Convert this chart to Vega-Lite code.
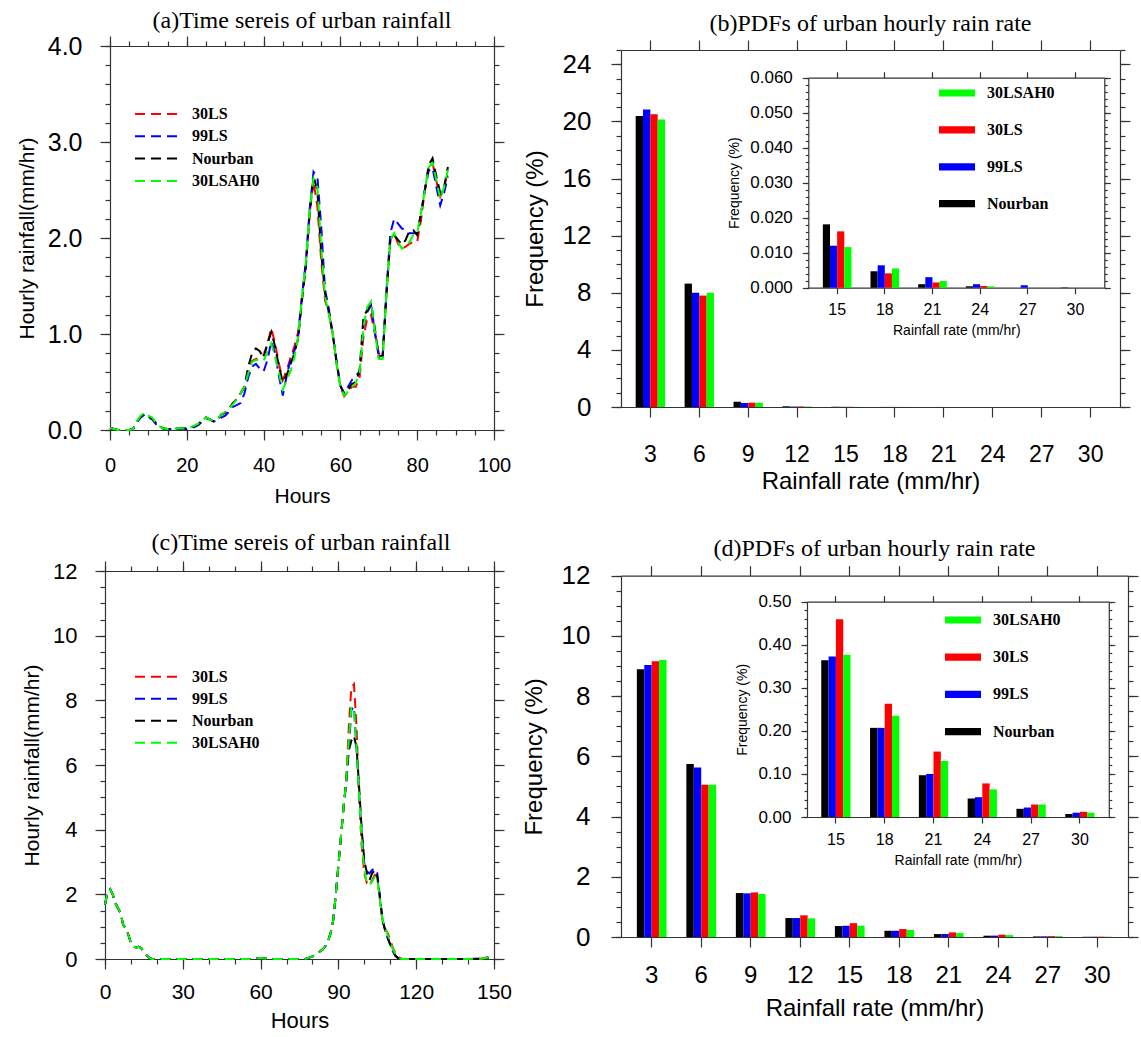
{
"$schema":"https://vega.github.io/schema/vega-lite/v6.json",
"background":"white",
"padding":{"left":16,"top":9,"right":5,"bottom":3},
"autosize":{"type":"pad"},
"config":{
 "view":{"stroke":null},
 "axis":{"domainColor":"#333","domainWidth":1.2,"tickColor":"#333","tickWidth":1.2,"tickSize":10,"labelColor":"#000","titleColor":"#000","labelFont":"Liberation Sans","titleFont":"Liberation Sans","titleFontWeight":"normal","grid":false,"labelFlush":false,"labelOverlap":false},
 "title":{"font":"Liberation Serif","fontSize":24,"fontWeight":"normal","color":"#000"},
 "legend":{"padding":0,"labelFont":"Liberation Serif","labelFontWeight":"bold","labelFontSize":16,"labelColor":"#000","labelOffset":12,"clipHeight":16}
},
"datasets":{
 "ts_a":[
  {"h":0,"30LS":0.02,"99LS":0.02,"Nourban":0.02,"30LSAH0":0.02},
  {"h":1,"30LS":0.01,"99LS":0.01,"Nourban":0.01,"30LSAH0":0.01},
  {"h":2,"30LS":0,"99LS":0,"Nourban":0,"30LSAH0":0},
  {"h":3,"30LS":0,"99LS":0,"Nourban":0,"30LSAH0":0},
  {"h":4,"30LS":0,"99LS":0,"Nourban":0,"30LSAH0":0},
  {"h":5,"30LS":0,"99LS":0,"Nourban":0,"30LSAH0":0},
  {"h":6,"30LS":0.01,"99LS":0.01,"Nourban":0.01,"30LSAH0":0.01},
  {"h":7,"30LS":0.09,"99LS":0.08,"Nourban":0.09,"30LSAH0":0.09},
  {"h":8,"30LS":0.14,"99LS":0.13,"Nourban":0.14,"30LSAH0":0.15},
  {"h":9,"30LS":0.17,"99LS":0.16,"Nourban":0.17,"30LSAH0":0.18},
  {"h":10,"30LS":0.14,"99LS":0.13,"Nourban":0.14,"30LSAH0":0.15},
  {"h":11,"30LS":0.12,"99LS":0.11,"Nourban":0.12,"30LSAH0":0.13},
  {"h":12,"30LS":0.07,"99LS":0.06,"Nourban":0.07,"30LSAH0":0.07},
  {"h":13,"30LS":0.035,"99LS":0.03,"Nourban":0.035,"30LSAH0":0.035},
  {"h":14,"30LS":0.015,"99LS":0.01,"Nourban":0.015,"30LSAH0":0.015},
  {"h":15,"30LS":0.01,"99LS":0.01,"Nourban":0.01,"30LSAH0":0.01},
  {"h":16,"30LS":0.01,"99LS":0.01,"Nourban":0.01,"30LSAH0":0.01},
  {"h":17,"30LS":0.015,"99LS":0.01,"Nourban":0.015,"30LSAH0":0.015},
  {"h":18,"30LS":0.02,"99LS":0.015,"Nourban":0.02,"30LSAH0":0.02},
  {"h":19,"30LS":0.015,"99LS":0.01,"Nourban":0.015,"30LSAH0":0.015},
  {"h":20,"30LS":0.015,"99LS":0.01,"Nourban":0.015,"30LSAH0":0.015},
  {"h":21,"30LS":0.025,"99LS":0.02,"Nourban":0.025,"30LSAH0":0.03},
  {"h":22,"30LS":0.04,"99LS":0.03,"Nourban":0.04,"30LSAH0":0.045},
  {"h":23,"30LS":0.06,"99LS":0.05,"Nourban":0.06,"30LSAH0":0.065},
  {"h":24,"30LS":0.1,"99LS":0.09,"Nourban":0.1,"30LSAH0":0.1},
  {"h":25,"30LS":0.13,"99LS":0.12,"Nourban":0.13,"30LSAH0":0.13},
  {"h":26,"30LS":0.11,"99LS":0.11,"Nourban":0.11,"30LSAH0":0.11},
  {"h":27,"30LS":0.09,"99LS":0.09,"Nourban":0.09,"30LSAH0":0.1},
  {"h":28,"30LS":0.11,"99LS":0.1,"Nourban":0.11,"30LSAH0":0.12},
  {"h":29,"30LS":0.16,"99LS":0.13,"Nourban":0.16,"30LSAH0":0.16},
  {"h":30,"30LS":0.18,"99LS":0.15,"Nourban":0.18,"30LSAH0":0.19},
  {"h":31,"30LS":0.22,"99LS":0.19,"Nourban":0.22,"30LSAH0":0.22},
  {"h":32,"30LS":0.28,"99LS":0.24,"Nourban":0.28,"30LSAH0":0.27},
  {"h":33,"30LS":0.32,"99LS":0.26,"Nourban":0.32,"30LSAH0":0.32},
  {"h":34,"30LS":0.38,"99LS":0.28,"Nourban":0.38,"30LSAH0":0.38},
  {"h":35,"30LS":0.45,"99LS":0.38,"Nourban":0.45,"30LSAH0":0.45},
  {"h":36,"30LS":0.6,"99LS":0.55,"Nourban":0.66,"30LSAH0":0.59},
  {"h":37,"30LS":0.72,"99LS":0.66,"Nourban":0.8,"30LSAH0":0.71},
  {"h":38,"30LS":0.74,"99LS":0.69,"Nourban":0.85,"30LSAH0":0.73},
  {"h":39,"30LS":0.75,"99LS":0.64,"Nourban":0.82,"30LSAH0":0.73},
  {"h":40,"30LS":0.78,"99LS":0.61,"Nourban":0.75,"30LSAH0":0.72},
  {"h":41,"30LS":0.9,"99LS":0.73,"Nourban":0.9,"30LSAH0":0.82},
  {"h":42,"30LS":1.06,"99LS":0.92,"Nourban":1.02,"30LSAH0":0.9},
  {"h":43,"30LS":0.9,"99LS":0.8,"Nourban":0.87,"30LSAH0":0.76},
  {"h":44,"30LS":0.69,"99LS":0.56,"Nourban":0.66,"30LSAH0":0.59},
  {"h":45,"30LS":0.52,"99LS":0.36,"Nourban":0.5,"30LSAH0":0.42},
  {"h":46,"30LS":0.62,"99LS":0.56,"Nourban":0.57,"30LSAH0":0.52},
  {"h":47,"30LS":0.75,"99LS":0.73,"Nourban":0.68,"30LSAH0":0.61},
  {"h":48,"30LS":0.87,"99LS":0.82,"Nourban":0.8,"30LSAH0":0.75},
  {"h":49,"30LS":1.02,"99LS":0.97,"Nourban":0.95,"30LSAH0":0.97},
  {"h":50,"30LS":1.38,"99LS":1.4,"Nourban":1.35,"30LSAH0":1.38},
  {"h":51,"30LS":1.72,"99LS":1.75,"Nourban":1.7,"30LSAH0":1.75},
  {"h":52,"30LS":2.26,"99LS":2.3,"Nourban":2.26,"30LSAH0":2.3},
  {"h":53,"30LS":2.59,"99LS":2.69,"Nourban":2.64,"30LSAH0":2.62},
  {"h":54,"30LS":2.33,"99LS":2.64,"Nourban":2.5,"30LSAH0":2.53},
  {"h":55,"30LS":1.77,"99LS":2.12,"Nourban":1.84,"30LSAH0":1.91},
  {"h":56,"30LS":1.35,"99LS":1.46,"Nourban":1.42,"30LSAH0":1.39},
  {"h":57,"30LS":1.22,"99LS":1.26,"Nourban":1.22,"30LSAH0":1.2},
  {"h":58,"30LS":1,"99LS":1,"Nourban":1,"30LSAH0":1},
  {"h":59,"30LS":0.69,"99LS":0.72,"Nourban":0.7,"30LSAH0":0.69},
  {"h":60,"30LS":0.45,"99LS":0.46,"Nourban":0.46,"30LSAH0":0.45},
  {"h":61,"30LS":0.35,"99LS":0.38,"Nourban":0.38,"30LSAH0":0.36},
  {"h":62,"30LS":0.4,"99LS":0.45,"Nourban":0.42,"30LSAH0":0.4},
  {"h":63,"30LS":0.45,"99LS":0.52,"Nourban":0.48,"30LSAH0":0.45},
  {"h":64,"30LS":0.45,"99LS":0.56,"Nourban":0.5,"30LSAH0":0.49},
  {"h":65,"30LS":0.55,"99LS":0.61,"Nourban":0.62,"30LSAH0":0.59},
  {"h":66,"30LS":0.97,"99LS":1.08,"Nourban":1.18,"30LSAH0":1.08},
  {"h":67,"30LS":1.16,"99LS":1.23,"Nourban":1.25,"30LSAH0":1.28},
  {"h":68,"30LS":1.2,"99LS":1.3,"Nourban":1.32,"30LSAH0":1.34},
  {"h":69,"30LS":1,"99LS":1.02,"Nourban":1.05,"30LSAH0":1.02},
  {"h":70,"30LS":0.8,"99LS":0.76,"Nourban":0.76,"30LSAH0":0.74},
  {"h":71,"30LS":0.75,"99LS":0.76,"Nourban":0.78,"30LSAH0":0.74},
  {"h":72,"30LS":1.42,"99LS":1.45,"Nourban":1.42,"30LSAH0":1.42},
  {"h":73,"30LS":1.98,"99LS":2.05,"Nourban":1.98,"30LSAH0":1.98},
  {"h":74,"30LS":2.05,"99LS":2.2,"Nourban":2.03,"30LSAH0":2.05},
  {"h":75,"30LS":1.94,"99LS":2.15,"Nourban":1.98,"30LSAH0":1.96},
  {"h":76,"30LS":1.89,"99LS":2.1,"Nourban":1.93,"30LSAH0":1.89},
  {"h":77,"30LS":1.91,"99LS":2.08,"Nourban":1.98,"30LSAH0":1.91},
  {"h":78,"30LS":1.94,"99LS":2.05,"Nourban":2.08,"30LSAH0":1.96},
  {"h":79,"30LS":1.96,"99LS":2.05,"Nourban":2.08,"30LSAH0":2.03},
  {"h":80,"30LS":1.96,"99LS":2.05,"Nourban":2.03,"30LSAH0":2.05},
  {"h":81,"30LS":2.19,"99LS":2.26,"Nourban":2.26,"30LSAH0":2.26},
  {"h":82,"30LS":2.5,"99LS":2.5,"Nourban":2.5,"30LSAH0":2.5},
  {"h":83,"30LS":2.74,"99LS":2.7,"Nourban":2.76,"30LSAH0":2.74},
  {"h":84,"30LS":2.78,"99LS":2.73,"Nourban":2.83,"30LSAH0":2.78},
  {"h":85,"30LS":2.59,"99LS":2.53,"Nourban":2.64,"30LSAH0":2.6},
  {"h":86,"30LS":2.43,"99LS":2.34,"Nourban":2.47,"30LSAH0":2.41},
  {"h":87,"30LS":2.53,"99LS":2.47,"Nourban":2.53,"30LSAH0":2.53},
  {"h":88,"30LS":2.69,"99LS":2.64,"Nourban":2.74,"30LSAH0":2.71}
 ],
 "ts_c":[
  {"h":0,"30LS":1.68,"99LS":1.68,"Nourban":1.68,"30LSAH0":1.68},
  {"h":1,"30LS":2.09,"99LS":2.09,"Nourban":2.09,"30LSAH0":2.09},
  {"h":2,"30LS":2.16,"99LS":2.16,"Nourban":2.16,"30LSAH0":2.16},
  {"h":3,"30LS":1.99,"99LS":1.99,"Nourban":1.99,"30LSAH0":1.99},
  {"h":4,"30LS":1.73,"99LS":1.73,"Nourban":1.73,"30LSAH0":1.73},
  {"h":5,"30LS":1.57,"99LS":1.57,"Nourban":1.57,"30LSAH0":1.57},
  {"h":6,"30LS":1.42,"99LS":1.42,"Nourban":1.42,"30LSAH0":1.42},
  {"h":7,"30LS":1.06,"99LS":1.06,"Nourban":1.06,"30LSAH0":1.06},
  {"h":8,"30LS":0.95,"99LS":0.95,"Nourban":0.95,"30LSAH0":0.95},
  {"h":9,"30LS":0.75,"99LS":0.75,"Nourban":0.75,"30LSAH0":0.75},
  {"h":10,"30LS":0.49,"99LS":0.49,"Nourban":0.49,"30LSAH0":0.49},
  {"h":11,"30LS":0.38,"99LS":0.38,"Nourban":0.38,"30LSAH0":0.38},
  {"h":12,"30LS":0.36,"99LS":0.36,"Nourban":0.36,"30LSAH0":0.36},
  {"h":13,"30LS":0.38,"99LS":0.38,"Nourban":0.38,"30LSAH0":0.38},
  {"h":14,"30LS":0.33,"99LS":0.33,"Nourban":0.33,"30LSAH0":0.33},
  {"h":15,"30LS":0.23,"99LS":0.23,"Nourban":0.23,"30LSAH0":0.23},
  {"h":16,"30LS":0.12,"99LS":0.12,"Nourban":0.12,"30LSAH0":0.12},
  {"h":17,"30LS":0.04,"99LS":0.04,"Nourban":0.04,"30LSAH0":0.04},
  {"h":18,"30LS":0,"99LS":0,"Nourban":0,"30LSAH0":0},
  {"h":25,"30LS":0,"99LS":0,"Nourban":0,"30LSAH0":0},
  {"h":30,"30LS":0,"99LS":0,"Nourban":0,"30LSAH0":0},
  {"h":40,"30LS":0,"99LS":0,"Nourban":0,"30LSAH0":0},
  {"h":50,"30LS":0,"99LS":0,"Nourban":0,"30LSAH0":0},
  {"h":57,"30LS":0,"99LS":0,"Nourban":0,"30LSAH0":0},
  {"h":60,"30LS":0.03,"99LS":0.03,"Nourban":0.03,"30LSAH0":0.03},
  {"h":63,"30LS":0,"99LS":0,"Nourban":0,"30LSAH0":0},
  {"h":70,"30LS":0,"99LS":0,"Nourban":0,"30LSAH0":0},
  {"h":77,"30LS":0,"99LS":0,"Nourban":0,"30LSAH0":0},
  {"h":78,"30LS":0.02,"99LS":0.02,"Nourban":0.02,"30LSAH0":0.02},
  {"h":80,"30LS":0.08,"99LS":0.08,"Nourban":0.08,"30LSAH0":0.08},
  {"h":82,"30LS":0.18,"99LS":0.18,"Nourban":0.18,"30LSAH0":0.18},
  {"h":84,"30LS":0.3,"99LS":0.3,"Nourban":0.3,"30LSAH0":0.3},
  {"h":85,"30LS":0.4,"99LS":0.4,"Nourban":0.4,"30LSAH0":0.4},
  {"h":86,"30LS":0.55,"99LS":0.55,"Nourban":0.55,"30LSAH0":0.55},
  {"h":87,"30LS":0.8,"99LS":0.8,"Nourban":0.8,"30LSAH0":0.8},
  {"h":88,"30LS":1.2,"99LS":1.2,"Nourban":1.2,"30LSAH0":1.2},
  {"h":89,"30LS":2.0,"99LS":2.0,"Nourban":2.0,"30LSAH0":2.0},
  {"h":90,"30LS":2.9,"99LS":2.9,"Nourban":2.9,"30LSAH0":2.9},
  {"h":91,"30LS":3.8,"99LS":3.8,"Nourban":3.8,"30LSAH0":3.8},
  {"h":92,"30LS":4.7,"99LS":4.7,"Nourban":4.7,"30LSAH0":4.7},
  {"h":93,"30LS":5.5,"99LS":5.4,"Nourban":5.5,"30LSAH0":5.5},
  {"h":94,"30LS":7.16,"99LS":6.5,"Nourban":6.44,"30LSAH0":6.75},
  {"h":95,"30LS":8.4,"99LS":7.7,"Nourban":6.75,"30LSAH0":7.77},
  {"h":96,"30LS":8.5,"99LS":7.8,"Nourban":6.9,"30LSAH0":7.77},
  {"h":97,"30LS":7.16,"99LS":6.5,"Nourban":6.54,"30LSAH0":6.54},
  {"h":98,"30LS":4.9,"99LS":5.1,"Nourban":5.3,"30LSAH0":5.0},
  {"h":99,"30LS":3.47,"99LS":3.9,"Nourban":3.98,"30LSAH0":3.67},
  {"h":100,"30LS":2.65,"99LS":2.95,"Nourban":3.06,"30LSAH0":2.75},
  {"h":101,"30LS":2.34,"99LS":2.7,"Nourban":2.65,"30LSAH0":2.34},
  {"h":102,"30LS":2.29,"99LS":2.65,"Nourban":2.44,"30LSAH0":2.29},
  {"h":103,"30LS":2.44,"99LS":2.75,"Nourban":2.65,"30LSAH0":2.39},
  {"h":104,"30LS":2.6,"99LS":2.8,"Nourban":2.75,"30LSAH0":2.54},
  {"h":105,"30LS":2.54,"99LS":2.65,"Nourban":2.54,"30LSAH0":2.49},
  {"h":106,"30LS":1.83,"99LS":1.93,"Nourban":1.9,"30LSAH0":1.83},
  {"h":107,"30LS":1.21,"99LS":1.21,"Nourban":1.2,"30LSAH0":1.25},
  {"h":108,"30LS":0.95,"99LS":0.9,"Nourban":0.9,"30LSAH0":0.95},
  {"h":109,"30LS":0.8,"99LS":0.65,"Nourban":0.65,"30LSAH0":0.75},
  {"h":110,"30LS":0.6,"99LS":0.44,"Nourban":0.45,"30LSAH0":0.55},
  {"h":111,"30LS":0.34,"99LS":0.24,"Nourban":0.25,"30LSAH0":0.3},
  {"h":112,"30LS":0.18,"99LS":0.1,"Nourban":0.1,"30LSAH0":0.15},
  {"h":113,"30LS":0.08,"99LS":0.03,"Nourban":0.03,"30LSAH0":0.05},
  {"h":114,"30LS":0.02,"99LS":0,"Nourban":0,"30LSAH0":0.01},
  {"h":115,"30LS":0,"99LS":0,"Nourban":0,"30LSAH0":0},
  {"h":120,"30LS":0,"99LS":0,"Nourban":0,"30LSAH0":0},
  {"h":130,"30LS":0,"99LS":0,"Nourban":0,"30LSAH0":0},
  {"h":140,"30LS":0,"99LS":0,"Nourban":0,"30LSAH0":0},
  {"h":145,"30LS":0.01,"99LS":0.01,"Nourban":0.01,"30LSAH0":0.01},
  {"h":147,"30LS":0.04,"99LS":0.04,"Nourban":0.04,"30LSAH0":0.04},
  {"h":148,"30LS":0.04,"99LS":0.04,"Nourban":0.04,"30LSAH0":0.04}
 ],
 "pdf_b":[
  {"rate":3,"run":"Nourban","freq":20.38},{"rate":3,"run":"99LS","freq":20.83},{"rate":3,"run":"30LS","freq":20.5},{"rate":3,"run":"30LSAH0","freq":20.13},
  {"rate":6,"run":"Nourban","freq":8.64},{"rate":6,"run":"99LS","freq":8.0},{"rate":6,"run":"30LS","freq":7.8},{"rate":6,"run":"30LSAH0","freq":8.0},
  {"rate":9,"run":"Nourban","freq":0.37},{"rate":9,"run":"99LS","freq":0.28},{"rate":9,"run":"30LS","freq":0.3},{"rate":9,"run":"30LSAH0","freq":0.3},
  {"rate":12,"run":"Nourban","freq":0.05},{"rate":12,"run":"99LS","freq":0.03},{"rate":12,"run":"30LS","freq":0.04},{"rate":12,"run":"30LSAH0","freq":0.03},
  {"rate":15,"run":"Nourban","freq":0.0181},{"rate":15,"run":"99LS","freq":0.012},{"rate":15,"run":"30LS","freq":0.0161},{"rate":15,"run":"30LSAH0","freq":0.0116},
  {"rate":18,"run":"Nourban","freq":0.0047},{"rate":18,"run":"99LS","freq":0.0064},{"rate":18,"run":"30LS","freq":0.0041},{"rate":18,"run":"30LSAH0","freq":0.0055},
  {"rate":21,"run":"Nourban","freq":0.001},{"rate":21,"run":"99LS","freq":0.003},{"rate":21,"run":"30LS","freq":0.0015},{"rate":21,"run":"30LSAH0","freq":0.0019},
  {"rate":24,"run":"Nourban","freq":0.0004},{"rate":24,"run":"99LS","freq":0.001},{"rate":24,"run":"30LS","freq":0.0005},{"rate":24,"run":"30LSAH0","freq":0.0004},
  {"rate":27,"run":"Nourban","freq":0},{"rate":27,"run":"99LS","freq":0.0007},{"rate":27,"run":"30LS","freq":0},{"rate":27,"run":"30LSAH0","freq":0},
  {"rate":30,"run":"Nourban","freq":0.0001},{"rate":30,"run":"99LS","freq":0},{"rate":30,"run":"30LS","freq":0},{"rate":30,"run":"30LSAH0","freq":0}
 ],
 "pdf_d":[
  {"rate":3,"run":"Nourban","freq":8.89},{"rate":3,"run":"99LS","freq":9.03},{"rate":3,"run":"30LS","freq":9.16},{"rate":3,"run":"30LSAH0","freq":9.2},
  {"rate":6,"run":"Nourban","freq":5.75},{"rate":6,"run":"99LS","freq":5.63},{"rate":6,"run":"30LS","freq":5.06},{"rate":6,"run":"30LSAH0","freq":5.06},
  {"rate":9,"run":"Nourban","freq":1.46},{"rate":9,"run":"99LS","freq":1.45},{"rate":9,"run":"30LS","freq":1.48},{"rate":9,"run":"30LSAH0","freq":1.43},
  {"rate":12,"run":"Nourban","freq":0.63},{"rate":12,"run":"99LS","freq":0.63},{"rate":12,"run":"30LS","freq":0.72},{"rate":12,"run":"30LSAH0","freq":0.62},
  {"rate":15,"run":"Nourban","freq":0.364},{"rate":15,"run":"99LS","freq":0.373},{"rate":15,"run":"30LS","freq":0.459},{"rate":15,"run":"30LSAH0","freq":0.377},
  {"rate":18,"run":"Nourban","freq":0.207},{"rate":18,"run":"99LS","freq":0.207},{"rate":18,"run":"30LS","freq":0.263},{"rate":18,"run":"30LSAH0","freq":0.235},
  {"rate":21,"run":"Nourban","freq":0.097},{"rate":21,"run":"99LS","freq":0.1},{"rate":21,"run":"30LS","freq":0.152},{"rate":21,"run":"30LSAH0","freq":0.13},
  {"rate":24,"run":"Nourban","freq":0.043},{"rate":24,"run":"99LS","freq":0.046},{"rate":24,"run":"30LS","freq":0.078},{"rate":24,"run":"30LSAH0","freq":0.064},
  {"rate":27,"run":"Nourban","freq":0.019},{"rate":27,"run":"99LS","freq":0.022},{"rate":27,"run":"30LS","freq":0.029},{"rate":27,"run":"30LSAH0","freq":0.029},
  {"rate":30,"run":"Nourban","freq":0.007},{"rate":30,"run":"99LS","freq":0.01},{"rate":30,"run":"30LS","freq":0.012},{"rate":30,"run":"30LSAH0","freq":0.01}
 ]
},
"vconcat":[
 {"hconcat":[
  {
   "width":389,"height":384,
   "title":{"text":"(a)Time sereis of urban rainfall","anchor":"middle","baseline":"alphabetic","offset":-18,"dx":2.5},
   "data":{"name":"ts_a"},
   "transform":[{"fold":["30LS","99LS","Nourban","30LSAH0"],"as":["run","v"]}],
   "layer":[
    {"mark":{"type":"line","strokeWidth":2,"strokeDash":[10,6]},
     "encoding":{
      "x":{"field":"h","type":"quantitative","scale":{"domain":[0,100],"range":[5,389],"nice":false,"zero":false},
           "axis":{"orient":"bottom","values":[0,20,40,60,80,100],"labelFontSize":20,"labelPadding":15,"title":"Hours","titleFontSize":21,"titlePadding":10}},
      "y":{"field":"v","type":"quantitative","scale":{"domain":[0,4],"nice":false},
           "axis":{"orient":"left","offset":-5,"values":[0,1,2,3,4],"format":".1f","labelFontSize":25,"labelPadding":18,"title":"Hourly rainfall(mm/hr)","titleFontSize":21,"titlePadding":10}},
      "color":{"field":"run","type":"nominal","scale":{"domain":["30LS","99LS","Nourban","30LSAH0"],"range":["#ff0000","#0000ff","#000000","#00ff00"]},
           "legend":{"orient":"none","legendX":29,"legendY":60,"title":null,"symbolType":"stroke","symbolSize":1936,"symbolStrokeWidth":2,"symbolDash":[10,6],"rowPadding":6.3}}
     }},
    {"mark":{"type":"point","opacity":0},"encoding":{
      "x":{"field":"h","type":"quantitative","axis":{"orient":"bottom","values":[0,5,10,15,20,25,30,35,40,45,50,55,60,65,70,75,80,85,90,95,100],"labels":false,"title":null,"tickSize":5,"domain":false}},
      "y":{"field":"v","type":"quantitative","axis":{"orient":"left","offset":-5,"values":[0,0.2,0.4,0.6,0.8,1,1.2,1.4,1.6,1.8,2,2.2,2.4,2.6,2.8,3,3.2,3.4,3.6,3.8,4],"labels":false,"title":null,"tickSize":5,"domain":false}}}},
    {"mark":{"type":"point","opacity":0},"encoding":{
      "x":{"field":"h","type":"quantitative","axis":{"orient":"top","values":[0,20,40,60,80,100],"labels":false,"title":null}},
      "y":{"field":"v","type":"quantitative","axis":{"orient":"right","values":[0,1,2,3,4],"labels":false,"title":null}}}},
    {"mark":{"type":"point","opacity":0},"encoding":{
      "x":{"field":"h","type":"quantitative","axis":{"orient":"top","values":[0,5,10,15,20,25,30,35,40,45,50,55,60,65,70,75,80,85,90,95,100],"labels":false,"title":null,"tickSize":5,"domain":false}},
      "y":{"field":"v","type":"quantitative","axis":{"orient":"right","values":[0,0.2,0.4,0.6,0.8,1,1.2,1.4,1.6,1.8,2,2.2,2.4,2.6,2.8,3,3.2,3.4,3.6,3.8,4],"labels":false,"title":null,"tickSize":5,"domain":false}}}}
   ],
   "resolve":{"axis":{"x":"independent","y":"independent"}}
  },
  {
   "width":499,"height":361,
   "title":{"text":"(b)PDFs of urban hourly rain rate","anchor":"middle","baseline":"alphabetic","offset":-16},
   "data":{"name":"pdf_b"},
   "layer":[
    {"layer":[
      {"mark":{"type":"bar"},"encoding":{
        "x":{"field":"rate","type":"ordinal","scale":{"type":"band","domain":[3,6,9,12,15,18,21,24,27,30],"paddingInner":0.4,"paddingOuter":0.3},
             "axis":{"orient":"bottom","labelAngle":0,"labelFontSize":23,"labelPadding":26,"title":"Rainfall rate (mm/hr)","titleFontSize":24,"titlePadding":3}},
        "xOffset":{"field":"run","type":"nominal","scale":{"domain":["Nourban","99LS","30LS","30LSAH0"]}},
        "y":{"field":"freq","type":"quantitative","scale":{"domain":[0,25],"range":[361,4],"nice":false},
             "axis":{"orient":"left","values":[0,4,8,12,16,20,24],"labelFontSize":26,"labelPadding":20,"title":"Frequency (%)","titleFontSize":24,"titlePadding":15}},
        "color":{"field":"run","type":"nominal","scale":{"domain":["Nourban","99LS","30LS","30LSAH0"],"range":["#000000","#0000ff","#ff0000","#00ff00"]},"legend":null}
      }},
      {"mark":{"type":"point","opacity":0},"encoding":{
        "x":{"field":"rate","type":"ordinal","axis":{"orient":"top","offset":-4,"labels":false,"title":null}},
        "y":{"field":"freq","type":"quantitative","axis":{"orient":"right","values":[0,4,8,12,16,20,24],"labels":false,"title":null}}}},
      {"mark":{"type":"point","opacity":0},"encoding":{
        "x":{"field":"rate","type":"ordinal","axis":null},
        "y":{"field":"freq","type":"quantitative","axis":{"orient":"left","values":[0,1,2,3,4,5,6,7,8,9,10,11,12,13,14,15,16,17,18,19,20,21,22,23,24,25],"labels":false,"title":null,"tickSize":5,"domain":false}}}},
      {"mark":{"type":"point","opacity":0},"encoding":{
        "x":{"field":"rate","type":"ordinal","axis":null},
        "y":{"field":"freq","type":"quantitative","axis":{"orient":"right","values":[0,1,2,3,4,5,6,7,8,9,10,11,12,13,14,15,16,17,18,19,20,21,22,23,24,25],"labels":false,"title":null,"tickSize":5,"domain":false}}}}
     ],
     "resolve":{"axis":{"x":"independent","y":"independent"}}},
    {"transform":[{"filter":{"field":"rate","gte":15}}],
     "layer":[
      {"mark":{"type":"bar"},"encoding":{
        "x":{"field":"rate","type":"ordinal","scale":{"type":"band","domain":[15,18,21,24,27,30],"range":[187.3,483.3],"paddingInner":0.4,"paddingOuter":0.305},
             "axis":{"orient":"bottom","offset":-119.3,"labelAngle":0,"labelFontSize":16,"labelPadding":8,"tickSize":6,"title":"Rainfall rate (mm/hr)","titleFontSize":14,"titlePadding":6}},
        "xOffset":{"field":"run","type":"nominal","scale":{"domain":["Nourban","99LS","30LS","30LSAH0"]}},
        "y":{"field":"freq","type":"quantitative","scale":{"domain":[0,0.06],"range":[241.7,31.7],"nice":false},
             "axis":{"orient":"left","offset":-187.3,"values":[0,0.01,0.02,0.03,0.04,0.05,0.06],"format":".3f","labelFontSize":17,"labelPadding":10,"tickSize":6,"title":"Frequency (%)","titleFontSize":14,"titlePadding":8}},
        "color":{"field":"run","type":"nominal","scale":{"domain":["Nourban","99LS","30LS","30LSAH0"],"range":["#000000","#0000ff","#ff0000","#00ff00"]},
             "legend":{"orient":"none","legendX":318,"legendY":39,"title":null,"values":["30LSAH0","30LS","99LS","Nourban"],"symbolType":"M-1,-0.2H1V0.2H-1Z","symbolSize":1296,"symbolStrokeWidth":0,"symbolOpacity":1,"rowPadding":20.9}}
      }},
      {"mark":{"type":"point","opacity":0},"encoding":{
        "x":{"field":"rate","type":"ordinal","axis":{"orient":"top","offset":-31.7,"labels":false,"title":null,"tickSize":6}},
        "y":{"field":"freq","type":"quantitative","axis":{"orient":"right","offset":-15.7,"values":[0,0.01,0.02,0.03,0.04,0.05,0.06],"labels":false,"title":null,"tickSize":6}}}},
      {"mark":{"type":"point","opacity":0},"encoding":{
        "x":{"field":"rate","type":"ordinal","axis":null},
        "y":{"field":"freq","type":"quantitative","axis":{"orient":"left","offset":-187.3,"values":[0,0.002,0.004,0.006,0.008,0.01,0.012,0.014,0.016,0.018,0.02,0.022,0.024,0.026,0.028,0.03,0.032,0.034,0.036,0.038,0.04,0.042,0.044,0.046,0.048,0.05,0.052,0.054,0.056,0.058,0.06],"labels":false,"title":null,"tickSize":3,"domain":false}}}},
      {"mark":{"type":"point","opacity":0},"encoding":{
        "x":{"field":"rate","type":"ordinal","axis":null},
        "y":{"field":"freq","type":"quantitative","axis":{"orient":"right","offset":-15.7,"values":[0,0.002,0.004,0.006,0.008,0.01,0.012,0.014,0.016,0.018,0.02,0.022,0.024,0.026,0.028,0.03,0.032,0.034,0.036,0.038,0.04,0.042,0.044,0.046,0.048,0.05,0.052,0.054,0.056,0.058,0.06],"labels":false,"title":null,"tickSize":3,"domain":false}}}}
     ],
     "resolve":{"axis":{"x":"independent","y":"independent"}}}
   ],
   "resolve":{"scale":{"x":"independent","y":"independent","color":"independent","xOffset":"independent"},"axis":{"x":"independent","y":"independent"}}
  }
 ],
 "spacing":127,"bounds":"flush",
 "resolve":{"scale":{"color":"independent"},"legend":{"color":"independent"}}},
 {"hconcat":[
  {
   "width":389,"height":388,
   "title":{"text":"(c)Time sereis of urban rainfall","anchor":"middle","baseline":"alphabetic","offset":-14,"dx":1.5},
   "data":{"name":"ts_c"},
   "transform":[{"fold":["30LS","99LS","Nourban","30LSAH0"],"as":["run","v"]}],
   "layer":[
    {"mark":{"type":"line","strokeWidth":2,"strokeDash":[10,6]},
     "encoding":{
      "x":{"field":"h","type":"quantitative","scale":{"domain":[0,150],"nice":false,"zero":false},
           "axis":{"orient":"bottom","values":[0,30,60,90,120,150],"labelFontSize":21,"labelPadding":12,"title":"Hours","titleFontSize":22,"titlePadding":8}},
      "y":{"field":"v","type":"quantitative","scale":{"domain":[0,12],"nice":false},
           "axis":{"orient":"left","values":[0,2,4,6,8,10,12],"labelFontSize":22,"labelPadding":18,"title":"Hourly rainfall(mm/hr)","titleFontSize":21,"titlePadding":10}},
      "color":{"field":"run","type":"nominal","scale":{"domain":["30LS","99LS","Nourban","30LSAH0"],"range":["#ff0000","#0000ff","#000000","#00ff00"]},
           "legend":{"orient":"none","legendX":29,"legendY":97.7,"title":null,"symbolType":"stroke","symbolSize":1936,"symbolStrokeWidth":2,"symbolDash":[10,6],"rowPadding":6}}
     }},
    {"mark":{"type":"point","opacity":0},"encoding":{
      "x":{"field":"h","type":"quantitative","axis":{"orient":"bottom","values":[0,10,20,30,40,50,60,70,80,90,100,110,120,130,140,150],"labels":false,"title":null,"tickSize":5,"domain":false}},
      "y":{"field":"v","type":"quantitative","axis":{"orient":"left","values":[0,0.5,1,1.5,2,2.5,3,3.5,4,4.5,5,5.5,6,6.5,7,7.5,8,8.5,9,9.5,10,10.5,11,11.5,12],"labels":false,"title":null,"tickSize":5,"domain":false}}}},
    {"mark":{"type":"point","opacity":0},"encoding":{
      "x":{"field":"h","type":"quantitative","axis":{"orient":"top","values":[0,30,60,90,120,150],"labels":false,"title":null}},
      "y":{"field":"v","type":"quantitative","axis":{"orient":"right","values":[0,2,4,6,8,10,12],"labels":false,"title":null}}}},
    {"mark":{"type":"point","opacity":0},"encoding":{
      "x":{"field":"h","type":"quantitative","axis":{"orient":"top","values":[0,10,20,30,40,50,60,70,80,90,100,110,120,130,140,150],"labels":false,"title":null,"tickSize":5,"domain":false}},
      "y":{"field":"v","type":"quantitative","axis":{"orient":"right","values":[0,0.5,1,1.5,2,2.5,3,3.5,4,4.5,5,5.5,6,6.5,7,7.5,8,8.5,9,9.5,10,10.5,11,11.5,12],"labels":false,"title":null,"tickSize":5,"domain":false}}}}
   ],
   "resolve":{"axis":{"x":"independent","y":"independent"}}
  },
  {
   "width":507,"height":366,
   "title":{"text":"(d)PDFs of urban hourly rain rate","anchor":"middle","baseline":"alphabetic","offset":-17},
   "data":{"name":"pdf_d"},
   "layer":[
    {"layer":[
      {"mark":{"type":"bar"},"encoding":{
        "x":{"field":"rate","type":"ordinal","scale":{"type":"band","domain":[3,6,9,12,15,18,21,24,27,30],"paddingInner":0.4,"paddingOuter":0.32},
             "axis":{"orient":"bottom","labelAngle":0,"labelFontSize":24,"labelPadding":16,"title":"Rainfall rate (mm/hr)","titleFontSize":24,"titlePadding":9}},
        "xOffset":{"field":"run","type":"nominal","scale":{"domain":["Nourban","99LS","30LS","30LSAH0"]}},
        "y":{"field":"freq","type":"quantitative","scale":{"domain":[0,12],"range":[366,4.7],"nice":false},
             "axis":{"orient":"left","values":[0,2,4,6,8,10,12],"labelFontSize":26,"labelPadding":21,"title":"Frequency (%)","titleFontSize":24,"titlePadding":15}},
        "color":{"field":"run","type":"nominal","scale":{"domain":["Nourban","99LS","30LS","30LSAH0"],"range":["#000000","#0000ff","#ff0000","#00ff00"]},"legend":null}
      }},
      {"mark":{"type":"point","opacity":0},"encoding":{
        "x":{"field":"rate","type":"ordinal","axis":{"orient":"top","offset":-4.7,"labels":false,"title":null}},
        "y":{"field":"freq","type":"quantitative","axis":{"orient":"right","values":[0,2,4,6,8,10,12],"labels":false,"title":null}}}},
      {"mark":{"type":"point","opacity":0},"encoding":{
        "x":{"field":"rate","type":"ordinal","axis":null},
        "y":{"field":"freq","type":"quantitative","axis":{"orient":"left","values":[0,0.5,1,1.5,2,2.5,3,3.5,4,4.5,5,5.5,6,6.5,7,7.5,8,8.5,9,9.5,10,10.5,11,11.5,12],"labels":false,"title":null,"tickSize":5,"domain":false}}}},
      {"mark":{"type":"point","opacity":0},"encoding":{
        "x":{"field":"rate","type":"ordinal","axis":null},
        "y":{"field":"freq","type":"quantitative","axis":{"orient":"right","values":[0,0.5,1,1.5,2,2.5,3,3.5,4,4.5,5,5.5,6,6.5,7,7.5,8,8.5,9,9.5,10,10.5,11,11.5,12],"labels":false,"title":null,"tickSize":5,"domain":false}}}}
     ],
     "resolve":{"axis":{"x":"independent","y":"independent"}}},
    {"transform":[{"filter":{"field":"rate","gte":15}}],
     "layer":[
      {"mark":{"type":"bar"},"encoding":{
        "x":{"field":"rate","type":"ordinal","scale":{"type":"band","domain":[15,18,21,24,27,30],"range":[186,487.8],"paddingInner":0.4,"paddingOuter":0.292},
             "axis":{"orient":"bottom","offset":-120,"labelAngle":0,"labelFontSize":16,"labelPadding":8,"tickSize":6,"title":"Rainfall rate (mm/hr)","titleFontSize":14,"titlePadding":6}},
        "xOffset":{"field":"run","type":"nominal","scale":{"domain":["Nourban","99LS","30LS","30LSAH0"]}},
        "y":{"field":"freq","type":"quantitative","scale":{"domain":[0,0.5],"range":[246,30.7],"nice":false},
             "axis":{"orient":"left","offset":-186,"values":[0,0.1,0.2,0.3,0.4,0.5],"format":".2f","labelFontSize":17,"labelPadding":10,"tickSize":6,"title":"Frequency (%)","titleFontSize":14,"titlePadding":8}},
        "color":{"field":"run","type":"nominal","scale":{"domain":["Nourban","99LS","30LS","30LSAH0"],"range":["#000000","#0000ff","#ff0000","#00ff00"]},
             "legend":{"orient":"none","legendX":324,"legendY":41,"title":null,"values":["30LSAH0","30LS","99LS","Nourban"],"symbolType":"M-1,-0.2H1V0.2H-1Z","symbolSize":1296,"symbolStrokeWidth":0,"symbolOpacity":1,"rowPadding":21.2}}
      }},
      {"mark":{"type":"point","opacity":0},"encoding":{
        "x":{"field":"rate","type":"ordinal","axis":{"orient":"top","offset":-30.7,"labels":false,"title":null,"tickSize":6}},
        "y":{"field":"freq","type":"quantitative","axis":{"orient":"right","offset":-19.2,"values":[0,0.1,0.2,0.3,0.4,0.5],"labels":false,"title":null,"tickSize":6}}}},
      {"mark":{"type":"point","opacity":0},"encoding":{
        "x":{"field":"rate","type":"ordinal","axis":null},
        "y":{"field":"freq","type":"quantitative","axis":{"orient":"left","offset":-186,"values":[0,0.02,0.04,0.06,0.08,0.1,0.12,0.14,0.16,0.18,0.2,0.22,0.24,0.26,0.28,0.3,0.32,0.34,0.36,0.38,0.4,0.42,0.44,0.46,0.48,0.5],"labels":false,"title":null,"tickSize":3,"domain":false}}}},
      {"mark":{"type":"point","opacity":0},"encoding":{
        "x":{"field":"rate","type":"ordinal","axis":null},
        "y":{"field":"freq","type":"quantitative","axis":{"orient":"right","offset":-19.2,"values":[0,0.02,0.04,0.06,0.08,0.1,0.12,0.14,0.16,0.18,0.2,0.22,0.24,0.26,0.28,0.3,0.32,0.34,0.36,0.38,0.4,0.42,0.44,0.46,0.48,0.5],"labels":false,"title":null,"tickSize":3,"domain":false}}}}
     ],
     "resolve":{"axis":{"x":"independent","y":"independent"}}}
   ],
   "resolve":{"scale":{"x":"independent","y":"independent","color":"independent","xOffset":"independent"},"axis":{"x":"independent","y":"independent"}}
  }
 ],
 "spacing":127,"bounds":"flush",
 "resolve":{"scale":{"color":"independent"},"legend":{"color":"independent"}}}
],
"spacing":25,
"bounds":"full",
"resolve":{"scale":{"color":"independent"},"legend":{"color":"independent"}}
}
